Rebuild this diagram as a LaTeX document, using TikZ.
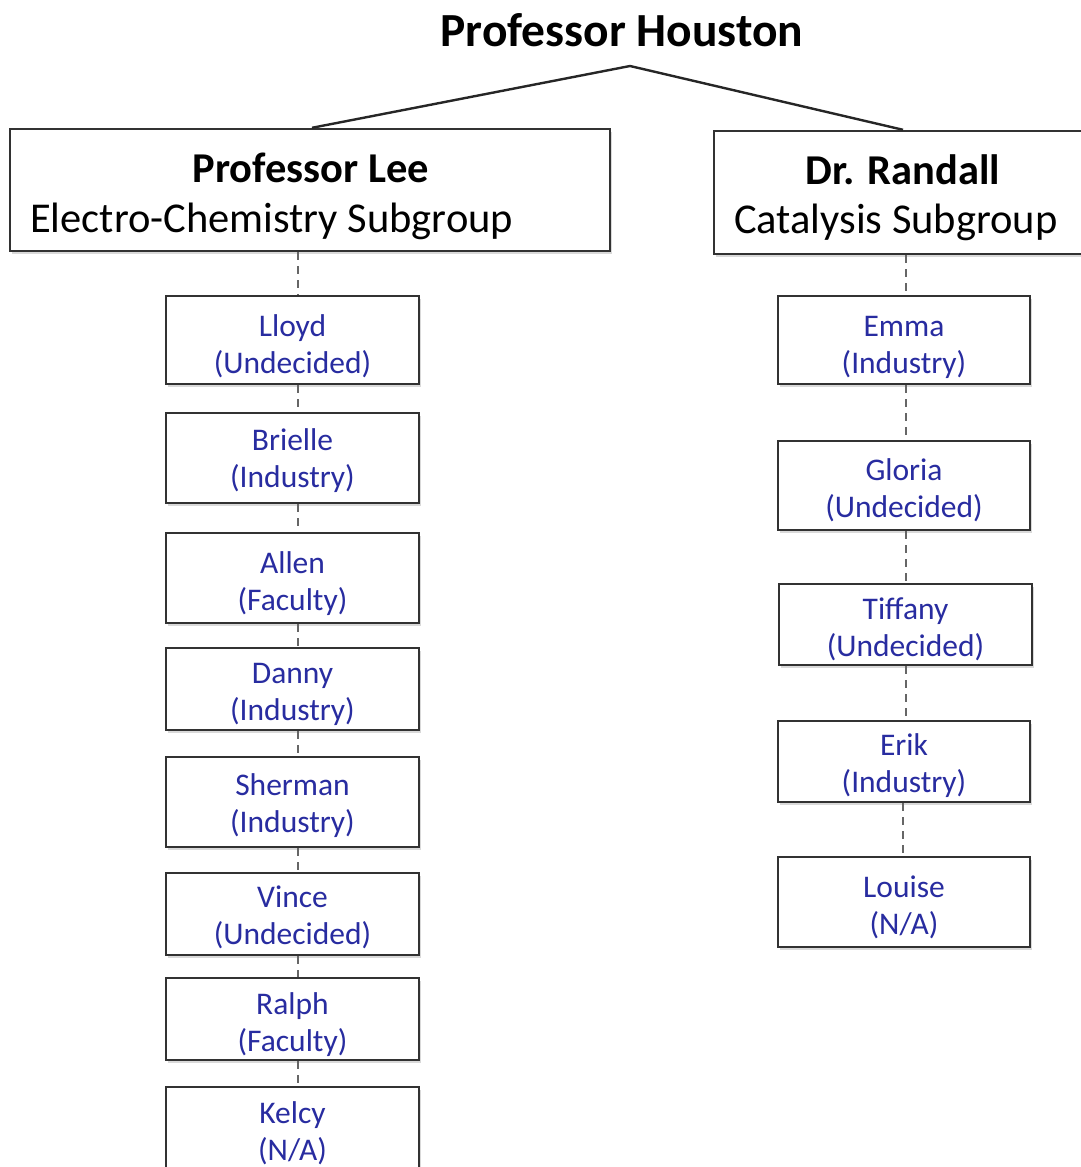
\documentclass[tikz,border=0pt]{standalone}
\usepackage{fontspec}
\setmainfont{Carlito}
\usetikzlibrary{shadows}
\definecolor{nameblue}{RGB}{40,44,160}
\definecolor{boxline}{RGB}{50,50,50}
\tikzset{
  x=1pt, y=-1pt,
  headbox/.style={draw=boxline, line width=2.4pt, fill=white, inner sep=0pt,
    drop shadow={opacity=0.3, shadow xshift=2pt, shadow yshift=-3pt}},
  pbox/.style={draw=boxline, line width=2.4pt, fill=white, inner sep=0pt,
    drop shadow={opacity=0.3, shadow xshift=2pt, shadow yshift=-3pt}},
  ptxt/.style={inner sep=0pt, anchor=base, text=nameblue, font=\fontsize{31.5}{37}\selectfont},
  headtxt/.style={inner sep=0pt, anchor=base, font=\fontsize{42.5}{50}\selectfont},
  conn/.style={line width=2.4pt, draw=black!85},
  dconn/.style={line width=2.6pt, draw=black!60, dash pattern=on 8pt off 6pt},
}
\newcommand{\personbox}[8]{%
  % #1 name, #2 cx, #3 top, #4 bottom, #5 width, #6 baseline1, #7 line1, #8 line2
  \node[pbox, minimum width=#5, minimum height=#4-#3] (#1) at (#2,{(#3+#4)/2}) {};
  \node[ptxt] (#1-a) at (#2,#6) {#7};
  \node[ptxt] (#1-b) at (#2,#6+37) {#8};
}
\begin{document}
\begin{tikzpicture}
\useasboundingbox (0,0) rectangle (1081,1167);

% title
\node[inner sep=0pt, anchor=base, font=\fontsize{47.5}{55}\bfseries\selectfont] (houston) at (622,46) {Professor Houston};
\coordinate (apex) at (630,66);

% head boxes
\node[headbox, minimum width=600, minimum height=122] (lee) at (310,190) {};
\node[headtxt, font=\fontsize{42.5}{50}\bfseries\selectfont] (lee-a) at (311,182) {Professor Lee};
\node[headtxt, anchor=base west] (lee-b) at (30,232) {Electro-Chemistry Subgroup};

\node[headbox, minimum width=370, minimum height=123] (randall) at (899,192.5) {};
\node[headtxt, font=\fontsize{42.5}{50}\bfseries\selectfont] (randall-a) at (903,184) {Dr. Randall};
\node[headtxt, anchor=base west] (randall-b) at (734,233) {Catalysis Subgroup};

\coordinate (leetop) at (312,0);
\coordinate (randtop) at (903,0);
\draw[conn] (lee.north -| leetop) -- (apex) -- (randall.north -| randtop);

% left column
\personbox{lloyd}{292.5}{296}{384}{253}{336}{Lloyd}{(Undecided)}
\personbox{brielle}{292.5}{413}{503}{253}{450}{Brielle}{(Industry)}
\personbox{allen}{292.5}{533}{623}{253}{573}{Allen}{(Faculty)}
\personbox{danny}{292.5}{648}{730}{253}{683}{Danny}{(Industry)}
\personbox{sherman}{292.5}{757}{847}{253}{795}{Sherman}{(Industry)}
\personbox{vince}{292.5}{873}{955}{253}{907}{Vince}{(Undecided)}
\personbox{ralph}{292.5}{978}{1060}{253}{1014}{Ralph}{(Faculty)}
\personbox{kelcy}{292.5}{1087}{1177}{253}{1123}{Kelcy}{(N/A)}

% right column
\personbox{emma}{904}{296}{384}{252}{336}{Emma}{(Industry)}
\personbox{gloria}{904}{441}{530}{252}{480}{Gloria}{(Undecided)}
\personbox{tiffany}{905.5}{584}{665}{253}{619}{Tiffany}{(Undecided)}
\personbox{erik}{904}{721}{802}{252}{755}{Erik}{(Industry)}
\personbox{louise}{904}{857}{947}{252}{897}{Louise}{(N/A)}

% connectors
\coordinate (lx) at (298,0);
\coordinate (rx) at (906,0);
\coordinate (rx2) at (903,0);
\draw[dconn] (lee.south -| lx) -- (lloyd.north -| lx);
\draw[dconn] (lloyd.south -| lx) -- (brielle.north -| lx);
\draw[dconn] (brielle.south -| lx) -- (allen.north -| lx);
\draw[dconn] (allen.south -| lx) -- (danny.north -| lx);
\draw[dconn] (danny.south -| lx) -- (sherman.north -| lx);
\draw[dconn] (sherman.south -| lx) -- (vince.north -| lx);
\draw[dconn] (vince.south -| lx) -- (ralph.north -| lx);
\draw[dconn] (ralph.south -| lx) -- (kelcy.north -| lx);
\draw[dconn] (randall.south -| rx) -- (emma.north -| rx);
\draw[dconn] (emma.south -| rx) -- (gloria.north -| rx);
\draw[dconn] (gloria.south -| rx) -- (tiffany.north -| rx);
\draw[dconn] (tiffany.south -| rx) -- (erik.north -| rx);
\draw[dconn] (erik.south -| rx2) -- (louise.north -| rx2);
\end{tikzpicture}
\end{document}
